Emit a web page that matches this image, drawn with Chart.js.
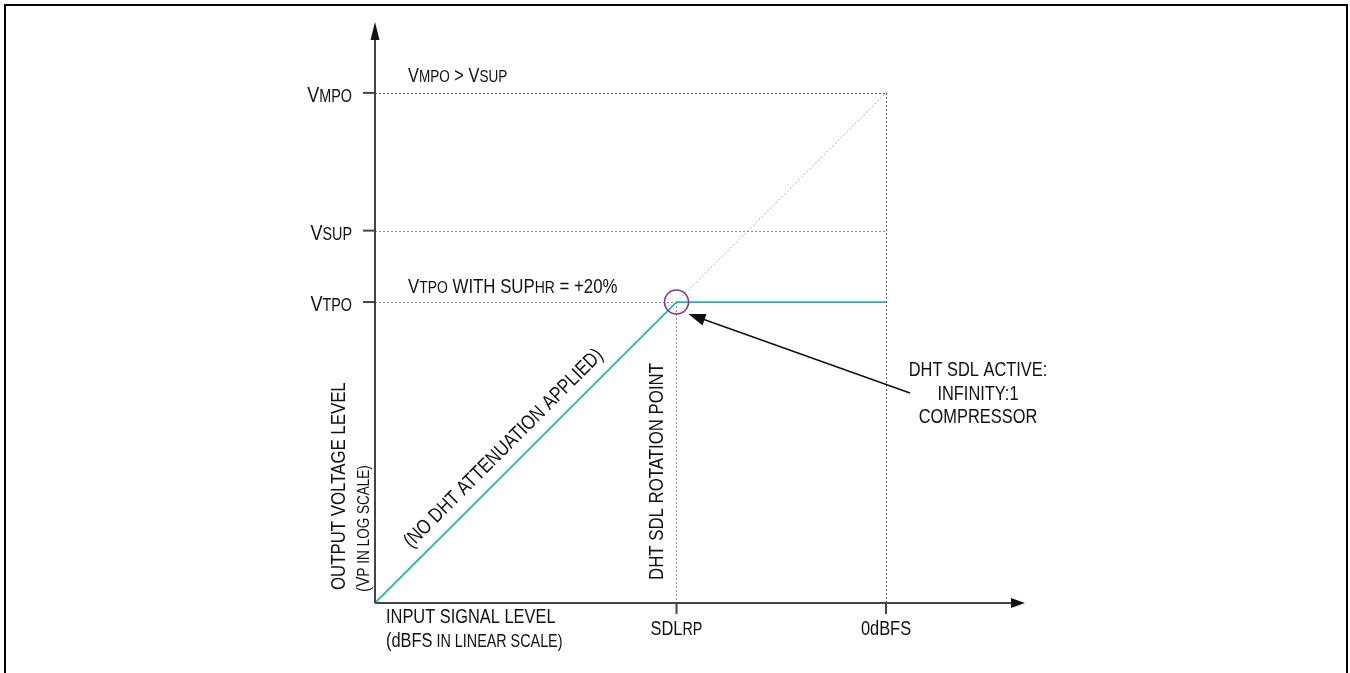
<!DOCTYPE html>
<html>
<head>
<meta charset="utf-8">
<script src="https://cdn.jsdelivr.net/npm/chart.js@4"></script>
<style>
  html, body { margin: 0; padding: 0; background: #fff; }
  #wrap { width: 1350px; height: 673px; }
</style>
</head>
<body>
<div id="wrap"><canvas id="myChart" width="1350" height="673"></canvas></div>
<script>
// values on a normalised scale: 0dBFS = 1, VMPO = 1
const xTicks = [0.59, 1.0];
const xTickLabels = [[["SDL", 0], ["RP", 1]], [["0dBFS", 0]]];
const yTicks = [1.0, 0.73, 0.59];
const yTickLabels = [[["V", 0], ["MPO", 1]], [["V", 0], ["SUP", 1]], [["V", 0], ["TPO", 1]]];
const curveX = [0, 0.59, 1.0];
const curveY = [0, 0.59, 0.59];
const xMax = 1.272;
const yMax = 1.139;

const TEAL = "#26b5ae";
const AXIS = "#444444";

// narrow font if it is there, else squeeze the normal one
const probe = document.createElement("canvas").getContext("2d");
probe.font = "20px 'Liberation Sans Narrow', monospace";
const wNarrow = probe.measureText("INPUT SIGNAL LEVEL").width;
probe.font = "20px monospace";
const wMono = probe.measureText("INPUT SIGNAL LEVEL").width;
const hasNarrow = Math.abs(wNarrow - wMono) > 0.5;
const FAMILY = hasNarrow ? "'Liberation Sans Narrow'" : "'Liberation Sans', Arial, sans-serif";
const SQ = hasNarrow ? 1 : 0.82;

const MAIN = 20, SUB = 16.5;

// parts: [text, isSub] ; big = size of normal letters
function richWidth(ctx, parts, big, sub) {
  let w = 0;
  parts.forEach(([t, s]) => {
    ctx.font = (s ? sub : big) + "px " + FAMILY;
    w += ctx.measureText(t).width;
  });
  return w * SQ;
}

function drawRich(ctx, parts, x, y, align, big, sub, rot) {
  big = big || MAIN;
  sub = sub || SUB;
  ctx.save();
  ctx.translate(x, y);
  if (rot) ctx.rotate(rot);
  const w = richWidth(ctx, parts, big, sub);
  let cx = 0;
  if (align === "right") cx = -w;
  if (align === "center") cx = -w / 2;
  ctx.scale(SQ, 1);
  cx = cx / SQ;
  ctx.textBaseline = "alphabetic";
  ctx.textAlign = "left";
  ctx.fillStyle = "#111";
  parts.forEach(([t, s]) => {
    ctx.font = (s ? sub : big) + "px " + FAMILY;
    ctx.fillText(t, cx, 0);
    cx += ctx.measureText(t).width;
  });
  ctx.restore();
}

function dotted(ctx, x1, y1, x2, y2, color) {
  ctx.save();
  ctx.strokeStyle = color;
  ctx.lineWidth = 1;
  ctx.setLineDash([2, 2]);
  ctx.beginPath();
  ctx.moveTo(x1, y1);
  ctx.lineTo(x2, y2);
  ctx.stroke();
  ctx.restore();
}

function arrowHead(ctx, x, y, ang, len, half, color) {
  ctx.save();
  ctx.translate(x, y);
  ctx.rotate(ang);
  ctx.fillStyle = color;
  ctx.beginPath();
  ctx.moveTo(0, 0);
  ctx.lineTo(-len, -half);
  ctx.lineTo(-len, half);
  ctx.closePath();
  ctx.fill();
  ctx.restore();
}

const diagram = {
  id: "diagram",
  beforeDatasetsDraw(chart) {
    const ctx = chart.ctx;
    const xs = chart.scales.x, ys = chart.scales.y;
    const x0 = xs.getPixelForValue(0), y0 = ys.getPixelForValue(0);
    const xK = xs.getPixelForValue(xTicks[0]), xF = xs.getPixelForValue(xTicks[1]);
    const yM = ys.getPixelForValue(yTicks[0]), yS = ys.getPixelForValue(yTicks[1]), yT = ys.getPixelForValue(yTicks[2]);
    dotted(ctx, x0, Math.round(yM) + 0.5, xF, Math.round(yM) + 0.5, "#555");
    dotted(ctx, x0, Math.round(yS) + 0.5, xF, Math.round(yS) + 0.5, "#888");
    dotted(ctx, x0, Math.round(yT) + 0.5, xK, Math.round(yT) + 0.5, "#888");
    dotted(ctx, Math.round(xF) + 0.5, yM, Math.round(xF) + 0.5, y0, "#555");
    dotted(ctx, Math.round(xK) + 0.5, yT, Math.round(xK) + 0.5, y0, "#888");
    dotted(ctx, xK, yT, xF, yM, "#aaa");
  },
  afterDatasetsDraw(chart) {
    const ctx = chart.ctx;
    const area = chart.chartArea;
    const xs = chart.scales.x, ys = chart.scales.y;
    const x0 = xs.getPixelForValue(0), y0 = ys.getPixelForValue(0);

    // frame
    ctx.save();
    ctx.strokeStyle = "#000";
    ctx.lineWidth = 2;
    ctx.strokeRect(5, 5, 1342, 700);
    ctx.restore();

    // axes
    ctx.save();
    ctx.strokeStyle = AXIS;
    ctx.lineWidth = 2;
    ctx.beginPath();
    ctx.moveTo(x0, y0);
    ctx.lineTo(x0, area.top + 14);
    ctx.moveTo(x0, y0);
    ctx.lineTo(area.right - 12, y0);
    ctx.stroke();
    ctx.restore();
    arrowHead(ctx, x0, area.top, -Math.PI / 2, 18, 4.5, "#111");
    arrowHead(ctx, area.right, y0, 0, 14, 5, "#111");

    // ticks + tick labels
    ctx.save();
    ctx.strokeStyle = AXIS;
    ctx.lineWidth = 2;
    yTicks.forEach((v) => {
      const y = ys.getPixelForValue(v);
      ctx.beginPath();
      ctx.moveTo(x0 - 12, y);
      ctx.lineTo(x0, y);
      ctx.stroke();
    });
    xTicks.forEach((v) => {
      const x = xs.getPixelForValue(v);
      ctx.beginPath();
      ctx.moveTo(x, y0);
      ctx.lineTo(x, y0 + 11);
      ctx.stroke();
    });
    ctx.restore();
    yTicks.forEach((v, i) => {
      drawRich(ctx, yTickLabels[i], x0 - 23, ys.getPixelForValue(v) + 9, "right", 22, 17.5);
    });
    xTicks.forEach((v, i) => {
      drawRich(ctx, xTickLabels[i], xs.getPixelForValue(v), y0 + 32, "center", 20, 17.5);
    });

    // axis titles
    drawRich(ctx, [["INPUT SIGNAL LEVEL", 0]], x0 + 11, y0 + 20, "left");
    drawRich(ctx, [["(dBFS", 0], [" IN LINEAR SCALE)", 1]], x0 + 11, y0 + 44, "left", 20, 17.5);
    drawRich(ctx, [["OUTPUT VOLTAGE LEVEL", 0]], x0 - 30, y0 - 13, "left", 20.5, 16, -Math.PI / 2);
    drawRich(ctx, [["(V", 0], ["P", 1], [" IN LOG SCALE)", 1]], x0 - 6, y0 - 11, "left", 19, 16.5, -Math.PI / 2);

    // annotations
    const xK = xs.getPixelForValue(xTicks[0]);
    const yT = ys.getPixelForValue(yTicks[2]);
    const yM = ys.getPixelForValue(yTicks[0]);
    drawRich(ctx, [["V", 0], ["MPO", 1], [" > V", 0], ["SUP", 1]], x0 + 33, yM - 11, "left");
    drawRich(ctx, [["V", 0], ["TPO", 1], [" WITH SUP", 0], ["HR", 1], [" = +20%", 0]], x0 + 33, yT - 9, "left", 20.5, 17);
    drawRich(ctx, [["DHT SDL ROTATION POINT", 0]], xK - 13, y0 - 23, "left", 20.5, 15, -Math.PI / 2);

    // diagonal caption
    const t = 0.47;
    const mx = x0 + (xK - x0) * t, my = y0 + (yT - y0) * t;
    drawRich(ctx, [["(NO DHT ATTENUATION APPLIED)", 0]], mx - 9, my - 9, "center", 20.5, 15, -Math.PI / 4);

    // compressor note
    const nx = 978;
    drawRich(ctx, [["DHT SDL ACTIVE:", 0]], nx, 376, "center");
    drawRich(ctx, [["INFINITY:1", 0]], nx, 400, "center");
    drawRich(ctx, [["COMPRESSOR", 0]], nx, 423, "center");

    // circle on knee
    ctx.save();
    ctx.strokeStyle = "#7b3294";
    ctx.lineWidth = 1.5;
    ctx.beginPath();
    ctx.arc(xK, yT, 12, 0, Math.PI * 2);
    ctx.stroke();
    ctx.restore();

    // pointer arrow
    const ax = xK + 12, ay = yT + 12, bx = 910, by = 393;
    const ang = Math.atan2(ay - by, ax - bx);
    ctx.save();
    ctx.strokeStyle = "#111";
    ctx.lineWidth = 1.5;
    ctx.beginPath();
    ctx.moveTo(bx, by);
    ctx.lineTo(ax - Math.cos(ang) * 12, ay - Math.sin(ang) * 12);
    ctx.stroke();
    ctx.restore();
    arrowHead(ctx, ax, ay, ang, 17, 6, "#111");
  }
};

const config = {
  type: "scatter",
  data: {
    datasets: [
      {
        label: "output",
        data: curveX.map((x, i) => ({ x: x, y: curveY[i] })),
        showLine: true,
        borderColor: TEAL,
        borderWidth: 1.8,
        pointRadius: 0,
        fill: false,
      },
    ],
  },
  options: {
    responsive: false,
    animation: false,
    layout: { padding: { left: 375, top: 22, right: 325, bottom: 70 } },
    scales: {
      x: { type: "linear", min: 0, max: xMax, display: false },
      y: { type: "linear", min: 0, max: yMax, display: false },
    },
    plugins: {
      legend: { display: false },
      tooltip: { enabled: false },
    },
  },
  plugins: [diagram],
};

const myChart = new Chart(document.getElementById("myChart"), config);
</script>
</body>
</html>
